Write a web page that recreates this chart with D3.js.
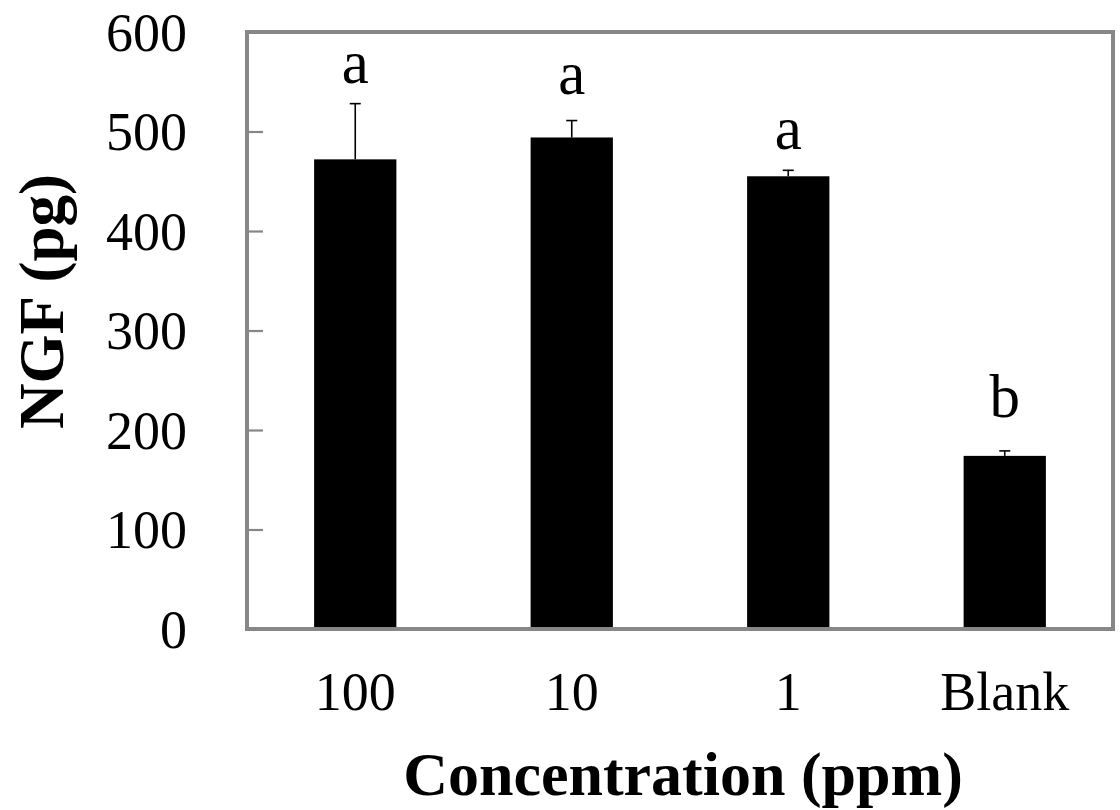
<!DOCTYPE html>
<html>
<head>
<meta charset="utf-8">
<script src="https://cdn.jsdelivr.net/npm/d3@7"></script>
<style>
  html, body { margin: 0; padding: 0; background: #fff; }
</style>
</head>
<body>
<div id="graph"></div>
<script>
// Data
const categories = ["100", "10", "1", "Blank"];
const means = [472, 494, 455, 174];
const errors = [56, 17, 6, 5];
const letters = ["a", "a", "a", "b"];
const letterLevels = [549, 538, 482, 213];
const yTicks = [0, 100, 200, 300, 400, 500, 600];

const width = 1120;
const height = 810;
const frame = { left: 247, right: 1113, top: 32, bottom: 629 };
const fontFamily = "'Liberation Serif', 'Times New Roman', serif";
const frameColor = "#878787";

const svg = d3
  .select("#graph")
  .append("svg")
  .attr("width", width)
  .attr("height", height)
  .style("font-family", fontFamily);

const x = d3
  .scaleBand()
  .domain(categories)
  .range([frame.left, frame.right])
  .paddingInner(0.62)
  .paddingOuter(0.31);

const y = d3.scaleLinear().domain([0, 600]).range([frame.bottom, frame.top]);

const rows = categories.map((c, i) => ({
  category: c,
  mean: means[i],
  error: errors[i],
  letter: letters[i],
  letterLevel: letterLevels[i],
}));

// Bars
svg
  .append("g")
  .selectAll("rect")
  .data(rows)
  .enter()
  .append("rect")
  .attr("x", d => x(d.category))
  .attr("y", d => y(d.mean))
  .attr("width", x.bandwidth())
  .attr("height", d => y(0) - y(d.mean))
  .style("fill", "#000");

// Error bars (upper only)
const capHalf = 5.5;
const err = svg.append("g").style("stroke", "#000").style("stroke-width", 1.6);
rows.forEach(d => {
  const cx = x(d.category) + x.bandwidth() / 2;
  err
    .append("line")
    .attr("x1", cx)
    .attr("x2", cx)
    .attr("y1", y(d.mean))
    .attr("y2", y(d.mean + d.error));
  err
    .append("line")
    .attr("x1", cx - capHalf)
    .attr("x2", cx + capHalf)
    .attr("y1", y(d.mean + d.error))
    .attr("y2", y(d.mean + d.error));
});

// Significance letters
svg
  .append("g")
  .selectAll("text")
  .data(rows)
  .enter()
  .append("text")
  .attr("x", d => x(d.category) + x.bandwidth() / 2)
  .attr("y", d => y(d.letterLevel))
  .attr("text-anchor", "middle")
  .style("font-size", "61px")
  .text(d => d.letter);

// Y axis: ticks drawn inside the frame, labels to the left
const yAxis = svg
  .append("g")
  .attr("transform", `translate(${frame.left},0)`)
  .call(d3.axisRight(y).tickValues(yTicks).tickSize(16).tickFormat(""));
yAxis.select(".domain").remove();
yAxis
  .selectAll(".tick line")
  .style("stroke", frameColor)
  .style("stroke-width", 2.2);

svg
  .append("g")
  .selectAll("text")
  .data(yTicks)
  .enter()
  .append("text")
  .attr("x", 187)
  .attr("y", d => y(d))
  .attr("dy", "0.35em")
  .attr("text-anchor", "end")
  .style("font-size", "54px")
  .text(d => d);

// X axis labels
const xAxis = svg
  .append("g")
  .attr("transform", `translate(0,${frame.bottom})`)
  .call(d3.axisBottom(x).tickSize(0).tickPadding(0));
xAxis.select(".domain").remove();
xAxis
  .selectAll(".tick text")
  .attr("y", 81)
  .attr("dy", 0)
  .style("font-family", fontFamily)
  .style("font-size", "54px")
  .style("fill", "#000");

// Plot frame
svg
  .append("rect")
  .attr("x", frame.left)
  .attr("y", frame.top)
  .attr("width", frame.right - frame.left)
  .attr("height", frame.bottom - frame.top)
  .style("fill", "none")
  .style("stroke", frameColor)
  .style("stroke-width", 4);

// Axis titles
svg
  .append("text")
  .attr("transform", `translate(63,${(frame.top + frame.bottom) / 2 - 29}) rotate(-90)`)
  .attr("text-anchor", "middle")
  .style("font-size", "63px")
  .style("font-weight", "bold")
  .text("NGF (pg)");

svg
  .append("text")
  .attr("x", 683)
  .attr("y", 795)
  .attr("text-anchor", "middle")
  .style("font-size", "62px")
  .style("font-weight", "bold")
  .text("Concentration (ppm)");
</script>
</body>
</html>
